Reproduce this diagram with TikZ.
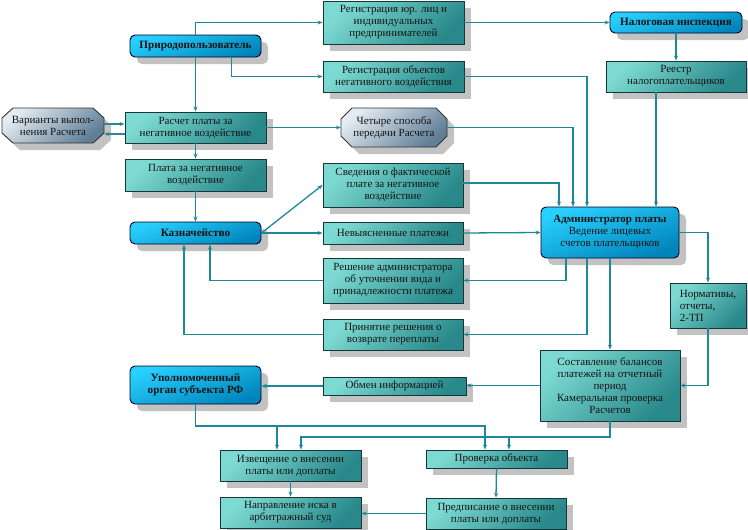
\documentclass[tikz,border=0pt]{standalone}
\usepackage{fontspec}
\setmainfont{Liberation Serif}
\usetikzlibrary{shadows,arrows.meta,calc}

\definecolor{tealL}{RGB}{125,218,210}
\definecolor{tealD}{RGB}{40,136,138}
\definecolor{blueL}{RGB}{40,208,255}
\definecolor{blueD}{RGB}{0,132,186}
\definecolor{octL}{RGB}{228,235,242}
\definecolor{octD}{RGB}{96,126,150}
\definecolor{lineC}{RGB}{30,135,152}
\definecolor{edgeC}{RGB}{22,55,58}

\tikzset{
  base/.style={inner sep=1pt, align=center, font=\fontsize{11}{12}\selectfont, text=black!92,
    drop shadow={shadow xshift=7pt, shadow yshift=-7pt, fill=black!24, opacity=1}},
  tbox/.style={base, draw=edgeC, line width=0.9pt, top color=tealL, bottom color=tealD, shading angle=45},
  bbox/.style={base, draw=black!85!blue, line width=0.9pt, rounded corners=5pt,
    top color=blueL, bottom color=blueD, shading angle=20, font=\bfseries\fontsize{11.2}{12}\selectfont},
  octfill/.style={draw=black!80, line width=0.9pt, top color=octL, bottom color=octD, shading angle=40,
    drop shadow={shadow xshift=7pt, shadow yshift=-7pt, fill=black!24, opacity=1}},
  octtext/.style={inner sep=1pt, align=center, font=\fontsize{11}{12}\selectfont, text=black!92},
  conn/.style={draw=lineC, line width=1.3pt, -{Stealth[length=5pt,width=4pt]}},
  thin conn/.style={draw=lineC!80!gray, line width=1.1pt, -{Stealth[length=5pt,width=4pt]}},
}

\begin{document}
\begin{tikzpicture}[x=1pt,y=-1pt]
\useasboundingbox (0,0) rectangle (748,530);

% octagon shapes
\path[octfill] (13,108) -- (93,108) -- (104,118) -- (104,133) -- (93,143) -- (13,143) -- (2,133) -- (2,118) -- cycle;
\path[octfill] (352,108) -- (436,108) -- (447,119) -- (447,136) -- (436,147) -- (352,147) -- (341,136) -- (341,119) -- cycle;

% nodes
\node[bbox, minimum width=131pt, minimum height=22pt] (pp) at (195.5,46) {Природопользователь};
\node[tbox, minimum width=141pt, minimum height=43pt] (reg1) at (393.5,22.5) {Регистрация юр. лиц и\\индивидуальных\\предпринимателей};
\node[tbox, minimum width=141pt, minimum height=31pt] (reg2) at (393.5,76.5) {Регистрация объектов\\негативного воздействия};
\node[bbox, minimum width=132pt, minimum height=21pt] (nal) at (676,22.5) {Налоговая инспекция};
\node[tbox, minimum width=140pt, minimum height=31pt] (reestr) at (676,76.5) {Реестр\\налогоплательщиков};
\node[octtext, minimum width=102pt, minimum height=35pt] (var) at (53,125.5) {Варианты выпол-\\нения Расчета};
\node[tbox, minimum width=141pt, minimum height=31pt] (ras) at (195.5,127.5) {Расчет платы за\\негативное воздействие};
\node[octtext, minimum width=106pt, minimum height=39pt] (four) at (394,127.5) {Четыре способа\\передачи Расчета};
\node[tbox, minimum width=141pt, minimum height=32pt] (plata) at (195.5,175) {Плата за негативное\\воздействие};
\node[tbox, minimum width=140pt, minimum height=44pt] (sved) at (393,185) {Сведения о фактической\\плате за негативное\\воздействие};
\node[bbox, minimum width=131pt, minimum height=22pt] (kazn) at (195.5,233) {Казначейство};
\node[tbox, minimum width=140pt, minimum height=22pt] (nev) at (393,233) {Невыясненные платежи};
\node[tbox, minimum width=140pt, minimum height=45pt] (resh) at (393,280.5) {Решение администратора\\об уточнении вида и\\принадлежности платежа};
\node[tbox, minimum width=140pt, minimum height=31pt] (prin) at (393,334.5) {Принятие решения о\\возврате переплаты};
\node[bbox, minimum width=138pt, minimum height=51pt, font=\fontsize{11}{12}\selectfont] (adm) at (610,232.5) {\textbf{Администратор платы}\\Ведение лицевых\\счетов плательщиков};
\node[tbox, minimum width=76pt, minimum height=45pt, align=left] (norm) at (708,305.5) {Нормативы,\\отчеты,\\2-ТП};
\node[tbox, minimum width=140pt, minimum height=71pt] (sost) at (610,385.5) {Составление балансов\\платежей на отчетный\\период\\Камеральная проверка\\Расчетов};
\node[tbox, minimum width=143pt, minimum height=18pt] (obm) at (394.5,386) {Обмен информацией};
\node[bbox, minimum width=131pt, minimum height=38pt] (upol) at (195.5,385) {Уполномоченный\\орган субъекта РФ};
\node[tbox, minimum width=141pt, minimum height=31pt] (izv) at (290.5,465.5) {Извещение о внесении\\платы или доплаты};
\node[tbox, minimum width=141pt, minimum height=31pt] (napr) at (290.5,512.5) {Направление иска в\\арбитражный суд};
\node[tbox, minimum width=141pt, minimum height=18pt] (prov) at (496.5,459) {Проверка объекта};
\node[tbox, minimum width=140pt, minimum height=31pt] (pred) at (496,513.5) {Предписание о внесении\\платы или доплаты};

% helper coordinates
\coordinate (j1) at (0,426);
\coordinate (j2) at (0,437);
\coordinate (z1) at ([xshift=-11.5pt]prov.north);
\coordinate (z2) at ([xshift=-13.5pt]izv.north);
\coordinate (z3) at ([xshift=10.5pt]izv.north);
\coordinate (z4) at ([xshift=12.5pt]prov.north);

% connectors
\draw[conn] (pp.north) |- (reg1.west);
\draw[conn] ([xshift=36pt]pp.south) |- (reg2.west);
\draw[conn] (pp.south) -- (ras.north);
\draw[thin conn] ([yshift=1.5pt]var.east) -- ([yshift=1.5pt]var.east -| ras.west);
\draw[thin conn] ([yshift=-6.5pt]ras.west) -- ([yshift=-6.5pt]ras.west -| var.east);
\draw[conn] (ras.east) -- (four.west);
\draw[conn] (ras.south) -- (plata.north);
\draw[conn] (reg1.east) -- (nal.west);
\draw[conn] (nal.south) -- (reestr.north);
\draw[conn] (reg2.east) -| ([xshift=-23pt]adm.north);
\draw[conn] (four.east) -| ([xshift=-37pt]adm.north);
\draw[conn] ([xshift=-20pt]reestr.south) -- ([xshift=-20pt]reestr.south |- adm.north);
\draw[conn] ([yshift=2pt]sved.east) -| ([xshift=-51pt]adm.north);
\draw[conn] (plata.south) -- (kazn.north);
\draw[conn] (kazn.east) -- (sved.west);
\draw[conn] (kazn.east) -- (nev.west);
\draw[conn] (nev.east) -- (adm.west);
\draw[conn] ([xshift=-44pt]adm.south) |- (resh.east);
\draw[conn] (resh.west) -| ([xshift=14.5pt]kazn.south);
\draw[conn] ([xshift=-23pt]adm.south) |- (prin.east);
\draw[conn] (prin.west) -| ([xshift=-11.5pt]kazn.south);
\draw[conn] (adm.south) -- (sost.north);
\draw[conn] (adm.east) -| (norm.north);
\draw[conn] (norm.south) |- (sost.east);
\draw[conn] (sost.west) -- (sost.west -| obm.east);
\draw[conn] (obm.west) -- (obm.west -| upol.east);
\draw[conn] (upol.south) |- (z1 |- j1) -- (z1);
\draw[conn] (z2 |- j1) -- (z2);
\draw[conn] (sost.south) |- (z3 |- j2) -- (z3);
\draw[conn] (z4 |- j2) -- (z4);
\draw[conn] (izv.south) -- (napr.north);
\draw[conn] (prov.south) -- (pred.north);
\draw[conn] (pred.west) -- (pred.west -| napr.east);
\end{tikzpicture}
\end{document}
